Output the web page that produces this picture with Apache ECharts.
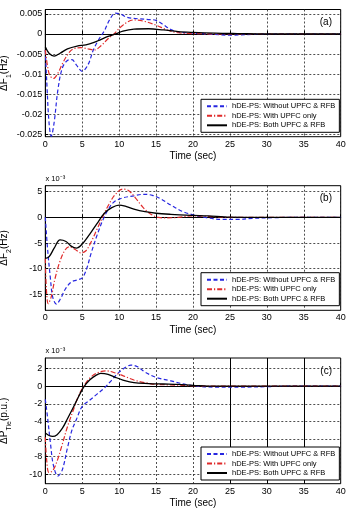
<!DOCTYPE html>
<html><head><meta charset="utf-8">
<script src="https://cdn.jsdelivr.net/npm/echarts@6/dist/echarts.min.js"></script>
<style>html,body{margin:0;padding:0;background:#fff}#c{width:349px;height:513px}</style>
</head><body><div id="c"></div>
<script>
const legendNames = ['hDE-PS: Without UPFC & RFB', 'hDE-PS: With UPFC only', 'hDE-PS: Both UPFC & RFB'];
const xTicks = [0,5,10,15,20,25,30,35,40];
const aTicks = [-0.025,-0.02,-0.015,-0.01,-0.005,0,0.005];
const bTicks = [-15,-10,-5,0,5];
const cTicks = [-10,-8,-6,-4,-2,0,2];
const cSolidX = [25,30,35];

// Panel (a): ΔF1 (Hz)
const a_blue_t = [0,0.2,0.5,0.8,1.2,1.7,2.3,3,3.6,4.2,5,5.8,6.5,7.2,8,8.7,9.5,10.3,11,12.5,14,15,16,17,18,19,20,22,25,28,32,36,40];
const a_blue_v = [-0.004,-0.012,-0.022,-0.0255,-0.022,-0.014,-0.0085,-0.0066,-0.0064,-0.0077,-0.0093,-0.0076,-0.004,-0.0015,0.0008,0.0035,0.0052,0.0049,0.0042,0.0038,0.0036,0.0034,0.0023,0.0011,0.0005,0.0003,0.0002,0,-0.0003,-0.0001,0,0,0];
const a_red_t = [0,0.3,0.6,1.1,1.7,2.3,3,3.7,4.8,5.8,6.6,7.5,8.5,9.3,10.5,12,13.5,15,16.5,18,20,25,40];
const a_red_v = [-0.004,-0.008,-0.0103,-0.0111,-0.0098,-0.0075,-0.0052,-0.0038,-0.0034,-0.0037,-0.004,-0.003,-0.0012,0,0.0022,0.0035,0.0031,0.0022,0.001,0.0003,0.0001,0,0];
const a_blk_t = [0,0.5,1.2,2,3,4.3,5.5,6.6,7.5,8.5,9.5,10.5,12,14,16,18,20,23,26,30,40];
const a_blk_v = [-0.0032,-0.0048,-0.0055,-0.0048,-0.0037,-0.003,-0.0027,-0.0021,-0.0014,-0.0006,0,0.0007,0.0012,0.0013,0.001,0.0006,0.0004,0.0002,0.0001,0,0];

// Panel (b): ΔF2 (x 10^-3 Hz)
const b_blue_t = [0,0.3,0.7,1.0,1.5,2.0,2.7,3.5,4.3,5,5.6,6.2,7,7.8,8.5,9.3,10.5,12,13.3,14.5,15.5,17,18.5,20,22,24,26,28,31,35,40];
const b_blue_v = [0,-6,-12,-15.5,-16.9,-16,-14,-12.6,-12.2,-11.8,-10,-7,-3.5,-0.5,1.5,3,3.8,4.2,4.5,4.3,3.7,2.4,1.2,0.5,-0.1,-0.4,-0.4,-0.2,-0.05,0,0];
const b_red_t = [0,0.15,0.4,0.8,1.3,2,2.7,3.3,4,4.8,5.5,6.3,7,7.8,8.6,9.5,10.5,11.3,12.2,13.2,14.2,15.3,16.5,18,20,22,25,40];
const b_red_v = [-8,-14,-16.8,-15.5,-12,-8.5,-6.3,-5.7,-6.2,-6.9,-6.5,-4.5,-2.3,0.2,2.5,4.5,5.5,5.2,3.8,2,0.7,0,-0.1,0,0.3,0.2,0,0];
const b_blk_t = [0,0.5,1.2,2,2.8,3.5,4.2,5,6,7,8,9,10,11,12,13.5,15,17,20,22,25,30,40];
const b_blk_v = [-8,-7.7,-6,-4.4,-4.7,-5.6,-6,-5.2,-3.3,-1.2,0.8,1.9,2.4,2.1,1.6,1.1,0.8,0.6,0.4,0.3,0.05,0,0];

// Panel (c): ΔPTie (x 10^-3 p.u.)
const c_blue_t = [0,0.3,0.7,1.1,1.7,2.3,3,3.6,4.2,5,6,7,8,9,10,11,11.6,12.5,13.5,15,17,19,20.5,23,27,30,33,40];
const c_blue_v = [-1.5,-3.5,-6.5,-9,-10.2,-9.5,-7,-5,-3.8,-2.3,-1.6,-0.9,-0.2,0.7,1.6,2.2,2.4,2.2,1.6,1.0,0.6,0.2,0,-0.1,-0.1,-0.05,0,0];
const c_red_t = [0,0.2,0.5,1,1.6,2.3,3,3.8,4.5,5.2,6,7,8.2,9.5,10.5,12,13.5,15,17,20,25,40];
const c_red_v = [-5.8,-8.5,-9.8,-9.6,-8.5,-6.6,-4.6,-2.7,-1.1,0,0.9,1.5,1.75,1.5,1.2,0.7,0.4,0.2,0.15,0.05,0,0];
const c_blk_t = [0,0.5,1,1.6,2.3,3,3.8,4.5,5.2,6,6.8,7.5,8.5,9.5,10.5,12,14,16,18,20,23,40];
const c_blk_v = [-5.3,-5.6,-5.7,-5.5,-4.8,-3.7,-2.4,-1.2,-0.1,0.7,1.2,1.45,1.35,1.0,0.7,0.4,0.3,0.25,0.2,0.1,0,0];

const FONT = 'Liberation Sans, Arial, Helvetica, sans-serif';
const zip = (t, v) => t.map((x, i) => [x, v[i]]);
const styles = [
  {color:'#2626e0', type:[4,2.5], width:1.2},
  {color:'#e02a2a', type:[5,2,1.2,2], width:1.2},
  {color:'#000000', type:'solid', width:1.3}
];
const panels = [
  {top:9.5, height:127.2, min:-0.0256, max:0.0061, ticks:aTicks, name:'{m|ΔF}{s|1}{m|(Hz)}', label:'(a)', sets:[[a_blue_t,a_blue_v],[a_red_t,a_red_v],[a_blk_t,a_blk_v]], legTop:99.3, exp:false},
  {top:185.7, height:124.6, min:-18.1, max:6.17, ticks:bTicks, name:'{m|ΔF}{s|2}{m|(Hz)}', label:'(b)', sets:[[b_blue_t,b_blue_v],[b_red_t,b_red_v],[b_blk_t,b_blk_v]], legTop:272.7, exp:true},
  {top:358, height:125.7, min:-11.07, max:3.2, ticks:cTicks, name:'{m|ΔP}{s|Tie}{m|(p.u.)}', label:'(c)', sets:[[c_blue_t,c_blue_v],[c_red_t,c_red_v],[c_blk_t,c_blk_v]], legTop:447, exp:true}
];
const splitStyle = {color:'#222', type:[2,2], width:0.8};
const option = {
  animation:false,
  backgroundColor:'#fff',
  grid:[], xAxis:[], yAxis:[], series:[], legend:[], graphic:[]
};
panels.forEach((p, k) => {
  option.grid.push({left:45.3, width:295.4, top:p.top, height:p.height, show:true, borderColor:'#000', borderWidth:1, backgroundColor:'transparent', containLabel:false, outerBoundsMode:'none'});
  option.xAxis.push({type:'value', gridIndex:k, min:0, max:40, name:'Time (sec)', nameLocation:'middle', nameGap:15, nameMoveOverlap:false,
    nameTextStyle:{fontFamily:FONT, fontSize:10, color:'#000'},
    axisLine:{lineStyle:{color:'#000'}}, axisTick:{inside:true, length:3, customValues:xTicks, lineStyle:{color:'#000'}},
    axisLabel:{customValues:xTicks, fontFamily:FONT, fontSize:9, color:'#000', margin:3},
    splitLine:{show:true, lineStyle:splitStyle}});
  option.yAxis.push({type:'value', gridIndex:k, min:p.min, max:p.max, name:p.name, nameLocation:'middle', nameGap:33, nameRotate:90, nameMoveOverlap:false,
    nameTextStyle:{fontFamily:FONT, color:'#000', rich:{m:{fontFamily:FONT, fontSize:10, lineHeight:12, color:'#000'}, s:{fontFamily:FONT, fontSize:7, lineHeight:17, verticalAlign:'bottom', color:'#000'}}},
    axisLine:{lineStyle:{color:'#000'}}, axisTick:{inside:true, length:3, customValues:p.ticks, lineStyle:{color:'#000'}},
    axisLabel:{customValues:p.ticks, fontFamily:FONT, fontSize:9, color:'#000', margin:3},
    splitLine:{show:true, lineStyle:splitStyle}});
  p.sets.forEach((s, j) => {
    const ser = {type:'line', name:legendNames[j], xAxisIndex:k, yAxisIndex:k, data:zip(s[0], s[1]), symbol:'none', smooth:0.35,
      lineStyle:styles[j], itemStyle:{color:styles[j].color}, z:3};
    if (k === 2 && j === 2) {
      ser.markLine = {silent:true, symbol:'none', label:{show:false}, lineStyle:{color:'#000', type:'solid', width:1},
        data:cSolidX.map(x => ({xAxis:x})), z:2};
    }
    option.series.push(ser);
  });
  option.legend.push({orient:'vertical', left:201, top:p.legTop, width:138, data:legendNames, itemWidth:20, itemHeight:8, itemGap:1.5,
    padding:[3,4,3,5], borderColor:'#000', borderWidth:1, borderRadius:0, backgroundColor:'#fff', selectedMode:false,
    itemStyle:{opacity:0},
    textStyle:{fontFamily:FONT, fontSize:7.5, color:'#000'}});
  const yTop = p.top + 14.5;
  option.graphic.push({type:'text', right:17, top:yTop - 6.5, style:{text:p.label, font:'10px '+FONT, fill:'#000'}});
  if (p.exp) option.graphic.push({type:'text', left:45.5, top:p.top - 11, style:{text:'x 10⁻³', font:'7.5px '+FONT, fill:'#000'}});
});
echarts.init(document.getElementById('c'), null, {renderer:'canvas'}).setOption(option);
</script></body></html>
